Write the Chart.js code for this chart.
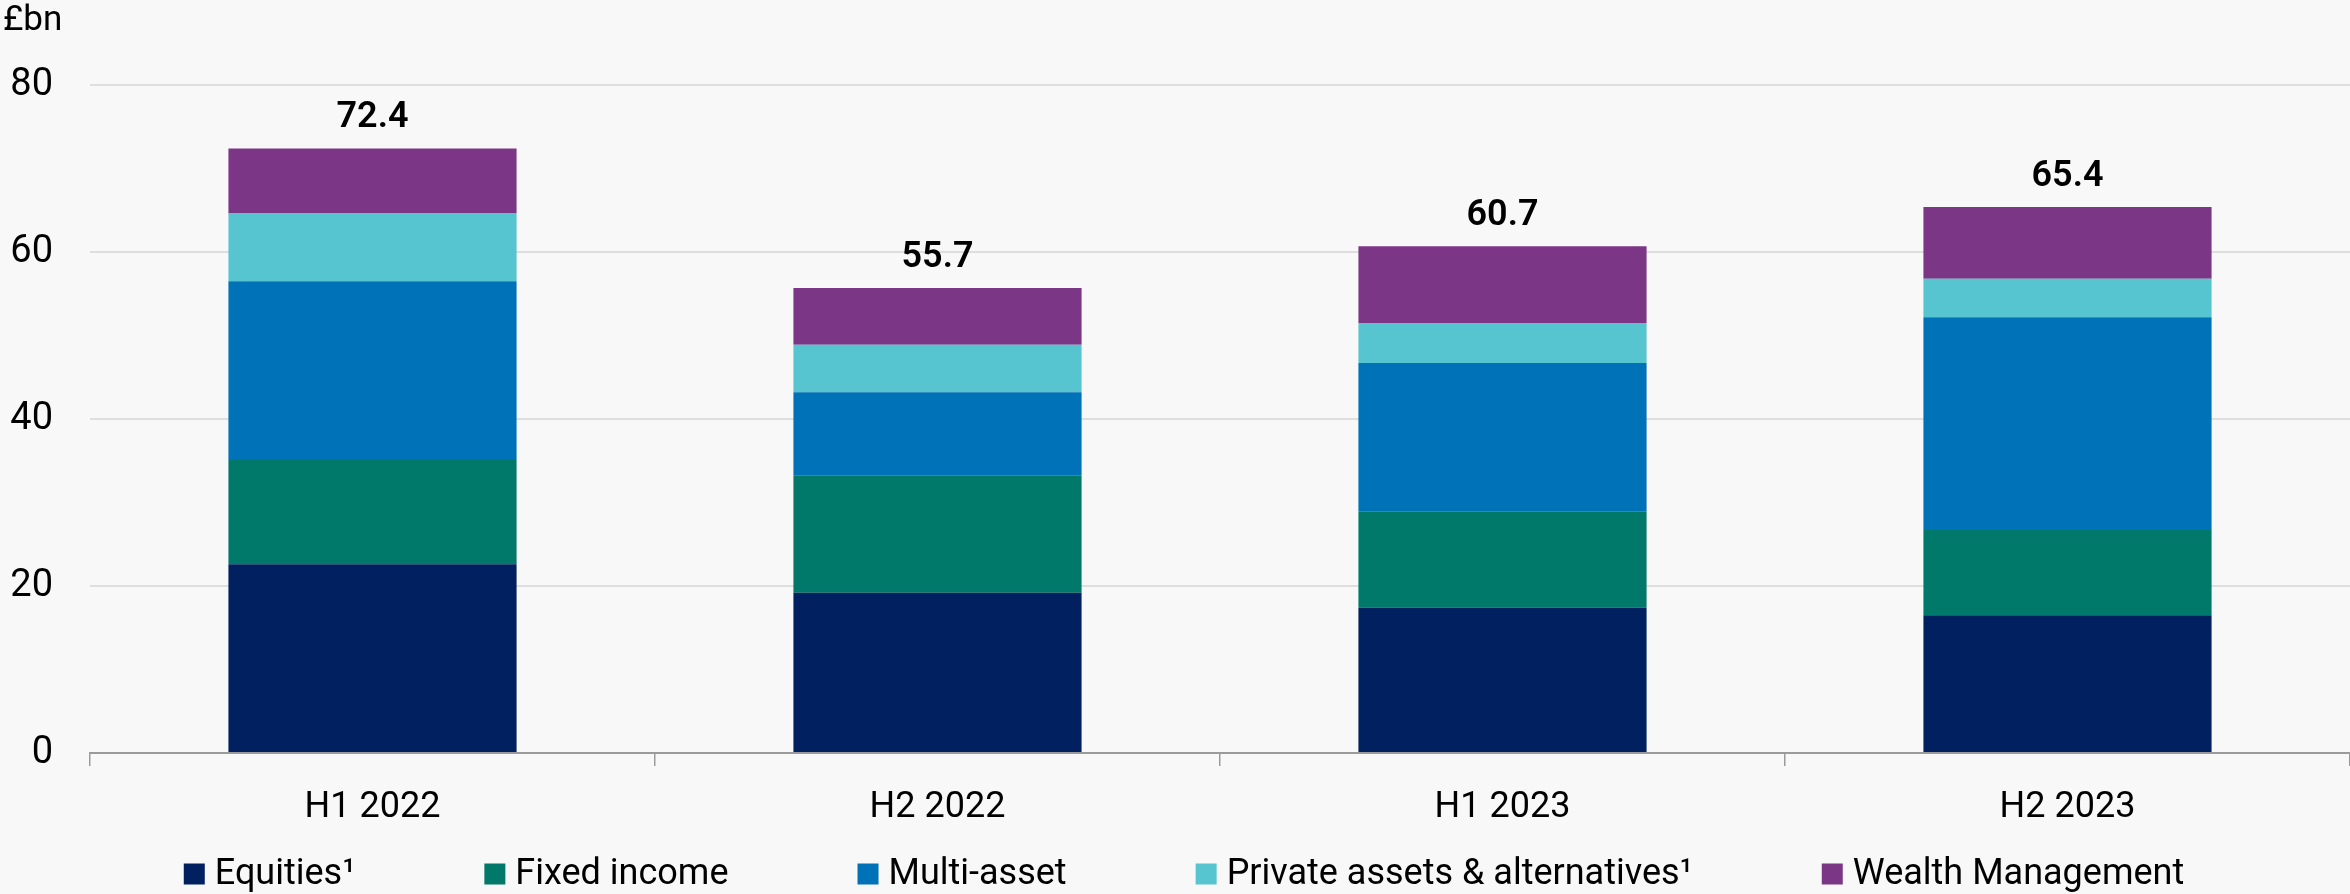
<!DOCTYPE html>
<html>
<head>
<meta charset="utf-8">
<script src="https://cdn.jsdelivr.net/npm/chart.js@4.4.1/dist/chart.umd.min.js"></script>
<style>
  html, body { margin: 0; padding: 0; background: #f8f8f8; }
  #wrap { width: 2350px; height: 894px; }
</style>
</head>
<body>
<div id="wrap"><canvas id="c" width="2350" height="894"></canvas></div>
<script>
const categories = ['H1 2022', 'H2 2022', 'H1 2023', 'H2 2023'];
const equities = [22.6, 19.2, 17.4, 16.5];
const fixedIncome = [12.5, 14.0, 11.5, 10.2];
const multiAsset = [21.4, 10.0, 17.8, 25.5];
const privateAssets = [8.1, 5.7, 4.8, 4.6];
const wealthManagement = [7.8, 6.8, 9.2, 8.6];
const totals = [72.4, 55.7, 60.7, 65.4];
const seriesNames = ['Equities¹', 'Fixed income', 'Multi-asset', 'Private assets & alternatives¹', 'Wealth Management'];
const seriesColors = ['#00205f', '#00786a', '#0072b7', '#57c5cf', '#7b3785'];
const yTickValues = [0, 20, 40, 60, 80];
const unitLabel = '£bn';

const FONT = 'Roboto, "Liberation Sans", sans-serif';

const seriesData = [equities, fixedIncome, multiAsset, privateAssets, wealthManagement];

const bgPlugin = {
  id: 'bg',
  beforeDraw(chart) {
    const ctx = chart.ctx;
    ctx.save();
    ctx.fillStyle = '#f8f8f8';
    ctx.fillRect(0, 0, chart.width, chart.height);
    ctx.restore();
  }
};

const extrasPlugin = {
  id: 'extras',
  afterDatasetsDraw(chart) {
    const ctx = chart.ctx;
    const xs = chart.scales.x, ys = chart.scales.y;
    ctx.save();
    // totals
    ctx.font = '600 36px ' + FONT;
    ctx.fillStyle = '#000';
    ctx.textAlign = 'center';
    ctx.textBaseline = 'alphabetic';
    totals.forEach((t, i) => {
      const x = xs.getPixelForValue(i);
      const y = ys.getPixelForValue(t);
      ctx.fillText(t.toFixed(1), x, y - 21);
    });
    // unit label
    ctx.font = '35px ' + FONT;
    ctx.textAlign = 'left';
    ctx.fillText(unitLabel, 3, 30);
    // legend
    ctx.font = '36px ' + FONT;
    const box = 21, gap = 10, itemGap = 129;
    const widths = seriesNames.map(n => ctx.measureText(n).width);
    let total = 0;
    widths.forEach((w, i) => { total += box + gap + w + (i < widths.length - 1 ? itemGap : 0); });
    let x = (chart.width - total) / 2 + 9;
    const cy = 874;
    ctx.textBaseline = 'middle';
    seriesNames.forEach((n, i) => {
      ctx.fillStyle = seriesColors[i];
      ctx.fillRect(x, cy - box / 2, box, box);
      ctx.fillStyle = '#000';
      ctx.fillText(n, x + box + gap, cy + 1);
      x += box + gap + widths[i] + itemGap;
    });
    ctx.restore();
  }
};

new Chart(document.getElementById('c'), {
  type: 'bar',
  data: {
    labels: categories,
    datasets: seriesNames.map((name, i) => ({
      label: name,
      data: seriesData[i],
      backgroundColor: seriesColors[i],
      borderWidth: 0,
      categoryPercentage: 1.0,
      barPercentage: 0.51
    }))
  },
  options: {
    responsive: false,
    animation: false,
    devicePixelRatio: 1,
    layout: { padding: { top: 85, right: 0, bottom: 0, left: 0 } },
    plugins: {
      legend: { display: false },
      tooltip: { enabled: false }
    },
    scales: {
      x: {
        stacked: true,
        offset: true,
        grid: {
          display: true,
          offset: true,
          drawOnChartArea: false,
          drawTicks: true,
          tickLength: 13,
          color: '#9b9b9b',
          lineWidth: 1.5
        },
        border: { display: true, color: '#9b9b9b', width: 2 },
        ticks: {
          color: '#000',
          font: { family: FONT, size: 36 },
          padding: 20,
          maxRotation: 0
        },
        afterFit(s) { s.height = 141; }
      },
      y: {
        stacked: true,
        min: 0,
        max: 80,
        afterBuildTicks(s) { s.ticks = yTickValues.map(v => ({ value: v })); },
        grid: { color: '#dedede', lineWidth: 2, drawTicks: false },
        border: { display: false },
        ticks: {
          color: '#000',
          font: { family: FONT, size: 38 },
          padding: 37
        },
        afterFit(s) { s.width = 90; }
      }
    }
  },
  plugins: [bgPlugin, extrasPlugin]
});
</script>
</body>
</html>
